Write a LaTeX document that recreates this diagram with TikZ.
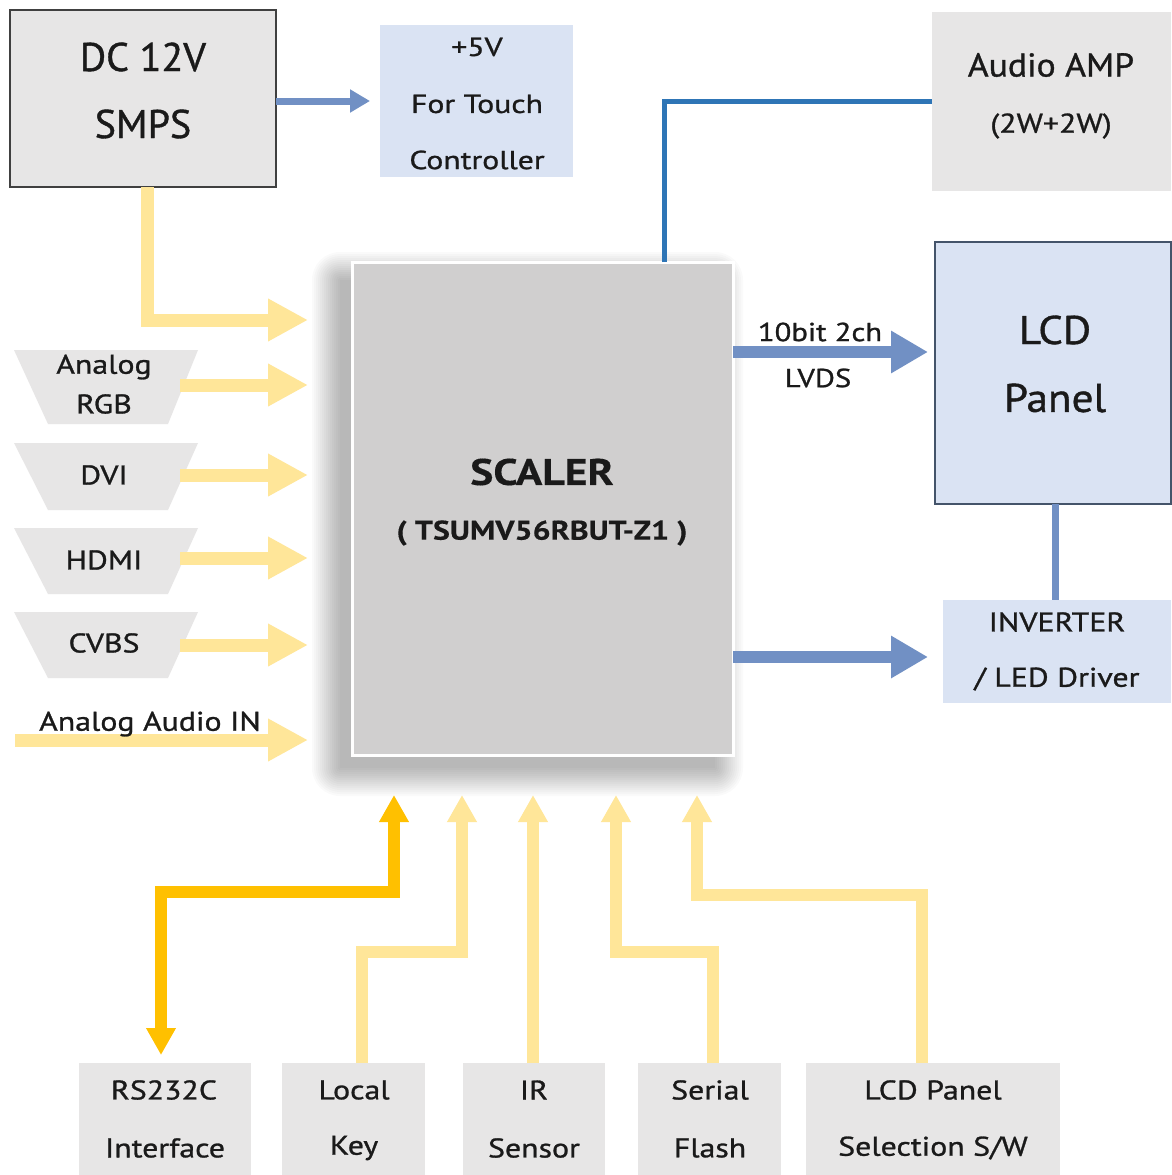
\documentclass[tikz,border=0pt]{standalone}
\usepackage{fontspec}
\setmainfont{PT Sans}[FakeStretch=1.18, UprightFeatures={FakeBold=1.0}, BoldFeatures={FakeBold=0.3}]
\newfontfamily\nfont{PT Sans}[FakeBold=1.0]
\newfontfamily\mfont{PT Sans}[FakeStretch=1.08, FakeBold=1.0]
\newfontfamily\tfont{PT Sans}[FakeStretch=1.22, FakeBold=1.0]
\usetikzlibrary{arrows.meta}
\definecolor{ylw}{HTML}{FFE699}
\definecolor{gold}{HTML}{FFC000}
\definecolor{bluearr}{HTML}{7190C4}
\definecolor{audioc}{HTML}{2E75B6}
\definecolor{lblue}{HTML}{DAE3F3}
\definecolor{lgray}{HTML}{E7E6E6}
\definecolor{sgray}{HTML}{D0CFCF}
\definecolor{txtc}{HTML}{1A1A1A}
\definecolor{lcdb}{HTML}{44546A}
\newcommand{\fsz}[1]{\fontsize{#1}{#1}\selectfont}
\begin{document}
\begin{tikzpicture}[x=1pt,y=-1pt,
  blk/.style={inner sep=0, outer sep=0, anchor=north west},
  txt/.style={inner sep=0, outer sep=0, text=txtc, align=center},
  yarrow/.style={draw=ylw, line width=13, -{Triangle[length=40pt,width=40pt]}},
  barrow/.style={draw=bluearr, line width=12, -{Triangle[length=37pt,width=40pt]}},
  sarrow/.style={draw=bluearr, line width=7, -{Triangle[length=20pt,width=22pt]}},
  uarrow/.style={draw=ylw, line width=12, -{Triangle[length=27pt,width=28pt]}},
  garrow/.style={draw=gold, line width=12, {Triangle[length=27pt,width=28pt]}-{Triangle[length=27pt,width=28pt]}},
]
\useasboundingbox (0,0) rectangle (1171,1175);
\fill[white] (0,0) rectangle (1171,1175);

% ---------- top left
\node[blk, draw=black!75, line width=1.5, fill=lgray, minimum width=266, minimum height=177] (smps) at (10,10) {};
\node[txt, font=\nfont\fsz{40}] (smpsA) at (143,57) {DC 12V};
\node[txt, font=\nfont\fsz{40}] (smpsB) at (143,124) {SMPS};

\node[blk, fill=lblue, minimum width=193, minimum height=152] (touch) at (380,25) {};
\node[txt, font=\tfont\fsz{26}] (touchA) at (477,47) {+5V};
\node[txt, font=\tfont\fsz{26}] (touchB) at (477,104) {For Touch};
\node[txt, font=\tfont\fsz{26}] (touchC) at (477,160) {Controller};

\draw[sarrow, shorten >=10] (smps.east |- touch.west) -- (touch.west);

% ---------- top right
\node[blk, fill=lgray, minimum width=239, minimum height=179] (amp) at (932,12) {};
\node[txt, font=\mfont\fsz{33}] (ampA) at (1051,65) {Audio AMP};
\node[txt, font=\fsz{27}] (ampB) at (1051,126) {(2W+2W)};

\node[blk, fill=lblue, draw=lcdb, line width=1.2, minimum width=236, minimum height=262] (lcd) at (935,242) {};
\node[txt, font=\mfont\fsz{40}] (lcdA) at (1055,330) {LCD};
\node[txt, font=\mfont\fsz{40}] (lcdB) at (1055,398) {Panel};

\node[blk, fill=lblue, minimum width=228, minimum height=103] (inv) at (943,600) {};
\node[txt, font=\fsz{27}] (invA) at (1057,622) {INVERTER};
\node[txt, font=\fsz{27}] (invB) at (1057,679) {/ LED Driver};

% ---------- scaler with shadow
\foreach \r in {0,2,...,28}
  \fill[black, opacity=0.018, rounded corners=\r] (340-\r,280-\r) rectangle (715+\r,768+\r);
\node[blk, fill=sgray, draw=white, line width=3, minimum width=381, minimum height=493] (scaler) at (352,262) {};
\node[txt, font=\fsz{37}\bfseries] (scalA) at (542,472) {SCALER};
\node[txt, font=\fsz{27}\bfseries] (scalB) at (542,533) {( TSUMV56RBUT-Z1 )};

% audio line
\coordinate (ax) at (664,0);
\draw[audioc, line width=5] (scaler.north -| ax) |- (amp.west);
% LCD - inverter
\coordinate (lx) at (1055,0);
\draw[bluearr, line width=7] (lcd.south -| lx) -- (inv.north -| lx);

% LVDS
\coordinate (lvdsY) at (0,352);
\coordinate (invY) at (0,657);
\coordinate (rTip) at (928,0);
\draw[barrow] (scaler.east |- lvdsY) -- (rTip |- lvdsY);
\node[txt, font=\fsz{26}] (lvdsA) at (820,332) {10bit 2ch};
\node[txt, font=\fsz{26}] (lvdsB) at (818,378) {LVDS};
\draw[barrow] (scaler.east |- invY) -- (rTip |- invY);

% ---------- left inputs
\tikzset{trap/.style={fill=lgray}}
\fill[trap] (14,350) -- (198,350) -- (168,424) -- (48,424) -- cycle;
\node[txt, font=\fsz{27}, align=center] (rgbA) at (104,367) {Analog};
\node[txt, font=\fsz{27}] (rgbB) at (104,404) {RGB};
\fill[trap] (14,443) -- (198,443) -- (168,510) -- (48,510) -- cycle;
\node[txt, font=\fsz{27}] (dvi) at (104,475) {DVI};
\fill[trap] (14,528) -- (198,528) -- (168,594) -- (48,594) -- cycle;
\node[txt, font=\fsz{27}] (hdmi) at (104,560) {HDMI};
\fill[trap] (14,612) -- (198,612) -- (168,678) -- (48,678) -- cycle;
\node[txt, font=\fsz{27}] (cvbs) at (104,643) {CVBS};

\coordinate (lTip) at (308,0);
\coordinate (trapR) at (180,0);
\coordinate (yx) at (147,0);
\coordinate (smpsY) at (0,320);
\draw[yarrow] (smps.south -| yx) |- (lTip |- smpsY);
\draw[yarrow] (trapR |- 0,385) -- (lTip |- 0,385);
\draw[yarrow] (trapR |- 0,475) -- (lTip |- 0,475);
\draw[yarrow] (trapR |- 0,558) -- (lTip |- 0,558);
\draw[yarrow] (trapR |- 0,645) -- (lTip |- 0,645);
\coordinate (audS) at (15,740);
\draw[yarrow] (audS) -- (lTip |- audS);
\node[txt, font=\fsz{27}] (audIn) at (150,724) {Analog Audio IN};

% ---------- bottom boxes
\node[blk, fill=lgray, minimum width=172, minimum height=112] (rs) at (79,1063) {};
\node[txt, font=\fsz{27}] at (164,1090) {RS232C};
\node[txt, font=\fsz{27}] at (165,1148) {Interface};
\node[blk, fill=lgray, minimum width=143, minimum height=112] (key) at (282,1063) {};
\node[txt, font=\fsz{27}] at (354,1090) {Local};
\node[txt, font=\fsz{27}] at (354,1148) {Key};
\node[blk, fill=lgray, minimum width=142, minimum height=112] (ir) at (463,1063) {};
\node[txt, font=\fsz{27}] at (534,1090) {IR};
\node[txt, font=\fsz{27}] at (534,1148) {Sensor};
\node[blk, fill=lgray, minimum width=143, minimum height=112] (flash) at (638,1063) {};
\node[txt, font=\fsz{27}] at (710,1090) {Serial};
\node[txt, font=\fsz{27}] at (710,1148) {Flash};
\node[blk, fill=lgray, minimum width=254, minimum height=112] (sel) at (806,1063) {};
\node[txt, font=\fsz{27}] at (933,1090) {LCD Panel};
\node[txt, font=\fsz{27}] at (933,1148) {Selection S/W};

% ---------- bottom connectors
\draw[uarrow] (key.north -| 362,0) |- (462,952) -- (462,795);
\draw[uarrow] (ir.north -| 533,0) -- (533,795);
\draw[uarrow] (flash.north -| 713,0) |- (616,952) -- (616,795);
\draw[uarrow] (sel.north -| 922,0) |- (697,895) -- (697,795);
\draw[garrow] (rs.north -| 161,0) ++(0,-8) |- (394,892) -- (394,795);
\end{tikzpicture}
\end{document}
